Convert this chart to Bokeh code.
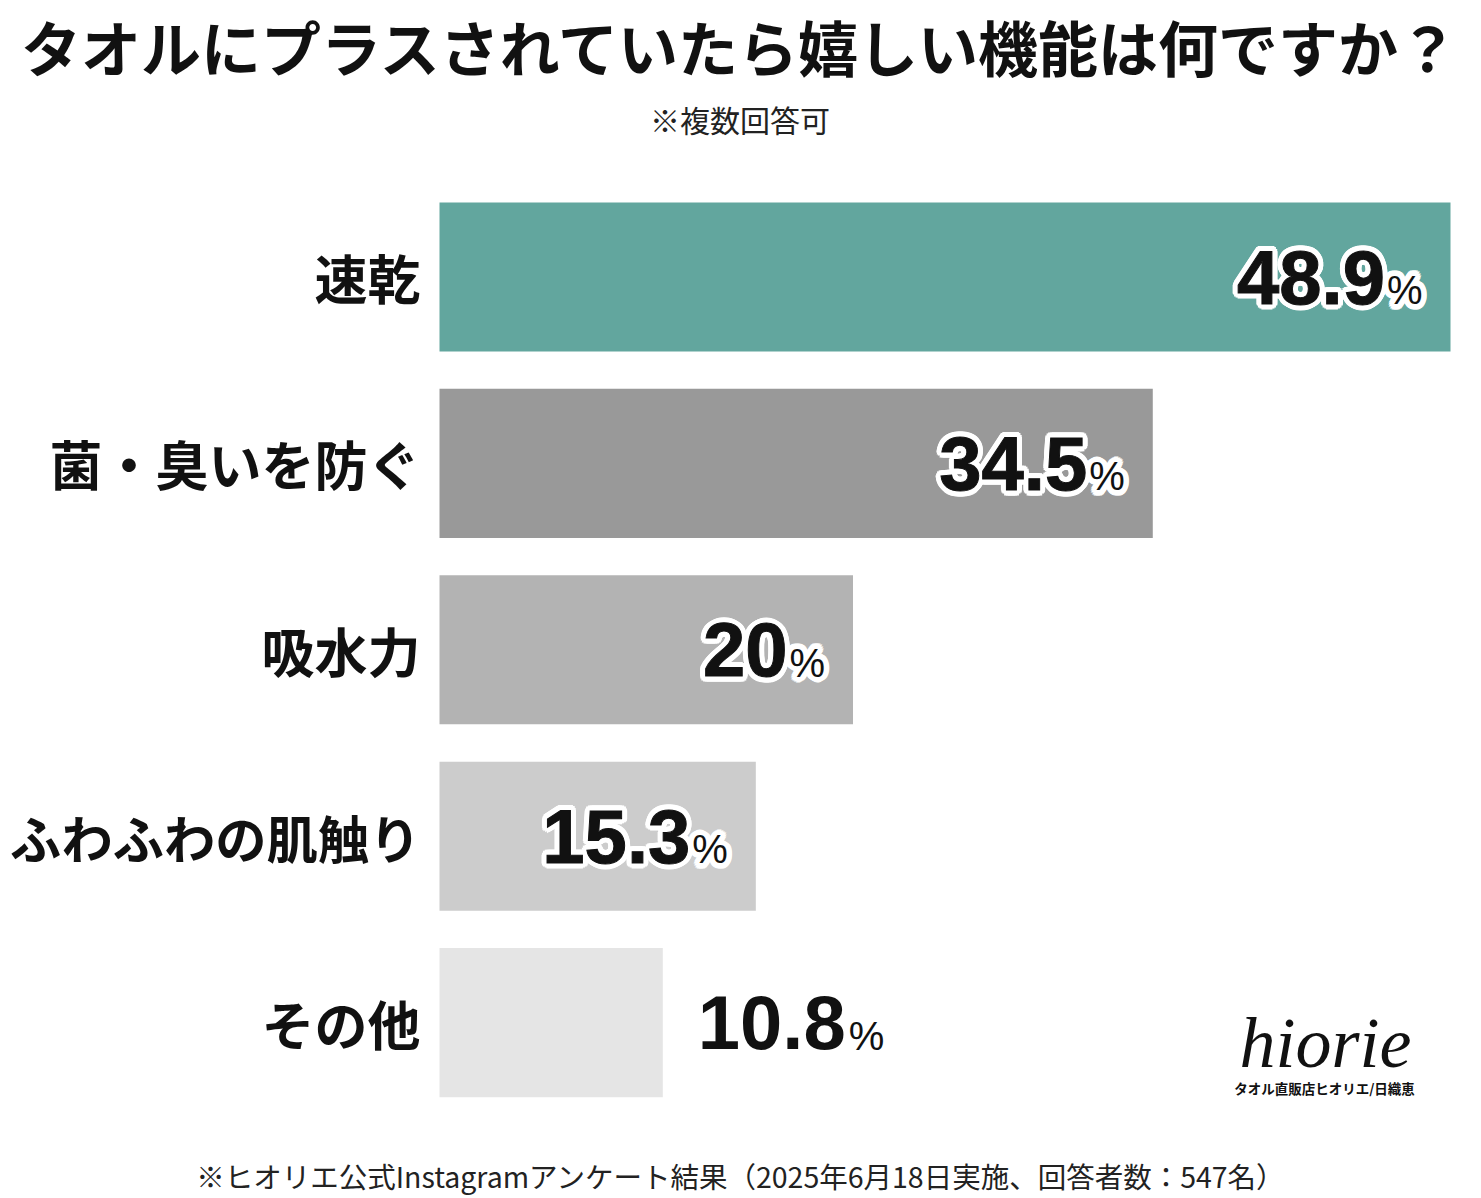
import math
from bokeh.plotting import figure
from bokeh.models import Range1d, Label, ColumnDataSource
from bokeh.core.properties import value
from bokeh.embed import file_html
from bokeh.resources import INLINE

# ---- data ----
categories = ["速乾", "菌・臭いを防ぐ", "吸水力", "ふわふわの肌触り", "その他"]
percentages = [48.9, 34.5, 20.0, 15.3, 10.8]
value_labels = ["48.9", "34.5", "20", "15.3", "10.8"]
bar_colors = ["#62a69e", "#999999", "#b3b3b3", "#cccccc", "#e5e5e5"]

title_text = "タオルにプラスされていたら嬉しい機能は何ですか？"
subtitle_text = "※複数回答可"
footer_text = "※ヒオリエ公式Instagramアンケート結果（2025年6月18日実施、回答者数：547名）"
logo_text = "hiorie"
logo_sub = "タオル直販店ヒオリエ/日織恵"

# ---- layout constants ----
W, H = 1481, 1198
PX_PER_UNIT = 20.675
BAR_LEFT_PX = 439
ROW_PX = 186.4
FIRST_ROW_PX = 276.5

JP = "Noto Sans CJK JP"
NUM = "Liberation Sans"
NUM_SIZE = 76
PCT_SIZE = 40
PCT_W = 0.889 * PCT_SIZE
PCT_DY = 13  # align % baseline with number baseline
INK = "#111111"
CAT_MAX_SIZE = 53
CAT_MAX_W = 402


def num_width(s):
    return sum((0.278 if c == "." else 0.556) for c in s) * NUM_SIZE


rows = list(range(len(categories)))
cat_sizes = ["%.1fpx" % min(CAT_MAX_SIZE, CAT_MAX_W / (len(c) * 0.98)) for c in categories]

p = figure(width=W, height=H, output_backend="svg", toolbar_location=None,
           x_range=Range1d(-BAR_LEFT_PX / PX_PER_UNIT, (W - BAR_LEFT_PX) / PX_PER_UNIT),
           y_range=Range1d((H - FIRST_ROW_PX) / ROW_PX, -FIRST_ROW_PX / ROW_PX),
           x_axis_type=None, y_axis_type=None, min_border=0, title=None)
p.outline_line_color = None
p.background_fill_color = "white"
p.border_fill_color = "white"

src = ColumnDataSource(dict(y=rows, v=percentages, c=bar_colors, cat=categories, lab=value_labels,
                            fs=cat_sizes))
p.hbar(y="y", left=0, right="v", height=0.8, fill_color="c", line_color=None, source=src)

# category labels
p.text(x=0, y="y", text="cat", source=src, x_offset=-19, text_align="right", text_baseline="middle",
       text_font=value(JP), text_font_style="bold", text_font_size="fs", text_color=INK)

# value labels
inside_threshold = 12
ins = [i for i, v in enumerate(percentages) if v >= inside_threshold]
out = [i for i, v in enumerate(percentages) if v < inside_threshold]

ins_src = ColumnDataSource(dict(y=[rows[i] for i in ins], x=[percentages[i] for i in ins],
                                t=[value_labels[i] for i in ins], pct=["%"] * len(ins)))
off_in = -30 - PCT_W

# white halo behind the in-bar labels
R = 5
for k in range(16):
    a = 2 * math.pi * k / 16
    dx, dy = R * math.cos(a), R * math.sin(a)
    p.text(x="x", y="y", text="t", source=ins_src, x_offset=off_in + dx, y_offset=dy,
           text_align="right", text_baseline="middle", text_font=value(NUM), text_font_style="bold",
           text_font_size=f"{NUM_SIZE}px", text_color="white", text_outline_color="white")
    p.text(x="x", y="y", text="pct", source=ins_src, x_offset=off_in + 2 + dx, y_offset=PCT_DY + dy,
           text_align="left", text_baseline="middle", text_font=value(NUM),
           text_font_size=f"{PCT_SIZE}px", text_color="white", text_outline_color="white")

p.text(x="x", y="y", text="t", source=ins_src, x_offset=off_in, y_offset=0,
       text_align="right", text_baseline="middle", text_font=value(NUM), text_font_style="bold",
       text_font_size=f"{NUM_SIZE}px", text_color=INK, text_outline_color=INK)
p.text(x="x", y="y", text="pct", source=ins_src, x_offset=off_in + 2, y_offset=PCT_DY,
       text_align="left", text_baseline="middle", text_font=value(NUM),
       text_font_size=f"{PCT_SIZE}px", text_color=INK)

out_src = ColumnDataSource(dict(y=[rows[i] for i in out], x=[percentages[i] for i in out],
                                t=[value_labels[i] for i in out], pct=["%"] * len(out),
                                po=[35 + num_width(value_labels[i]) + 3 for i in out]))
p.text(x="x", y="y", text="t", source=out_src, x_offset=35, y_offset=0,
       text_align="left", text_baseline="middle", text_font=value(NUM), text_font_style="bold",
       text_font_size=f"{NUM_SIZE}px", text_color=INK)
p.text(x="x", y="y", text="pct", source=out_src, x_offset="po", y_offset=PCT_DY,
       text_align="left", text_baseline="middle", text_font=value(NUM),
       text_font_size=f"{PCT_SIZE}px", text_color=INK)

# titles, footer, logo (screen units; frame == canvas)
p.add_layout(Label(x=W / 2, y=H - 1, x_units="screen", y_units="screen", text=title_text,
                   text_align="center", text_baseline="top", text_font=JP, text_font_style="bold",
                   text_font_size="60px", text_color=INK))
p.add_layout(Label(x=W / 2 - 1, y=H - 118, x_units="screen", y_units="screen", text=subtitle_text,
                   text_align="center", text_baseline="middle", text_font=JP,
                   text_font_size="30px", text_color="#222222"))
p.add_layout(Label(x=W / 2, y=H - 1175, x_units="screen", y_units="screen", text=footer_text,
                   text_align="center", text_baseline="middle", text_font=JP,
                   text_font_size="28.5px", text_color="#222222"))
p.add_layout(Label(x=1325, y=H - 1042, x_units="screen", y_units="screen", text=logo_text,
                   text_align="center", text_baseline="middle", text_font="Liberation Serif",
                   text_font_style="italic", text_font_size="72px", text_color=INK))
p.add_layout(Label(x=1324, y=H - 1087, x_units="screen", y_units="screen", text=logo_sub,
                   text_align="center", text_baseline="middle", text_font=JP, text_font_style="bold",
                   text_font_size="13.5px", text_color=INK))

open("out.html", "w").write(file_html(p, INLINE))
